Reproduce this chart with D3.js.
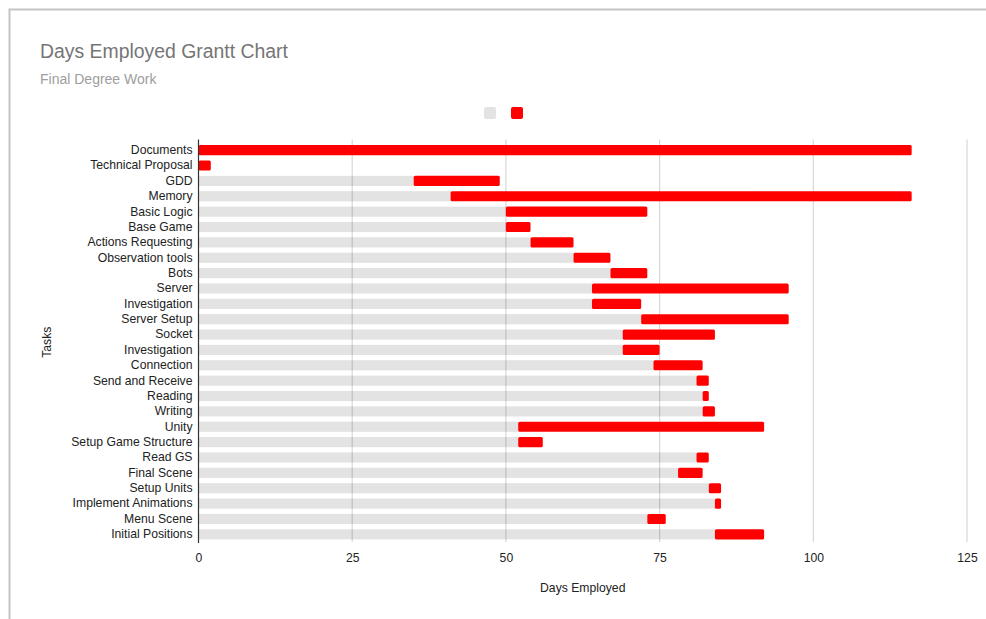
<!DOCTYPE html>
<html>
<head>
<meta charset="utf-8">
<script src="https://cdn.jsdelivr.net/npm/d3@7/dist/d3.min.js"></script>
<style>
  html, body { margin: 0; padding: 0; background: #fff; }
  svg { display: block; font-family: "Liberation Sans", Arial, sans-serif; }
</style>
</head>
<body>
<svg id="chart" width="986" height="619"></svg>
<script>
// 작업 목록 (위에서 아래 순서)
const tasks = [
  "Documents", "Technical Proposal", "GDD", "Memory", "Basic Logic", "Base Game",
  "Actions Requesting", "Observation tools", "Bots", "Server", "Investigation",
  "Server Setup", "Socket", "Investigation", "Connection", "Send and Receive",
  "Reading", "Writing", "Unity", "Setup Game Structure", "Read GS", "Final Scene",
  "Setup Units", "Implement Animations", "Menu Scene", "Initial Positions"
];
// 시작일 (회색 막대)
const startDays = [0, 0, 35, 41, 50, 50, 54, 61, 67, 64, 64, 72, 69, 69, 74, 81, 82, 82, 52, 52, 81, 78, 83, 84, 73, 84];
// 소요일 (빨간 막대)
const durationDays = [116, 2, 14, 75, 23, 4, 7, 6, 6, 32, 8, 24, 15, 6, 8, 2, 1, 2, 40, 4, 2, 4, 2, 1, 3, 8];
const xTicks = [0, 25, 50, 75, 100, 125];

const rows = tasks.map((t, i) => ({ key: i, task: t, start: startDays[i], dur: durationDays[i] }));

const svg = d3.select("#chart");
const FS = 12.2; // 라벨 글자 크기

// 바깥 테두리
svg.append("rect")
  .attr("x", 9.5).attr("y", 9.5).attr("width", 1000).attr("height", 700)
  .attr("fill", "none").attr("stroke", "#c4c4c4").attr("stroke-width", 2);

// 제목
svg.append("text").attr("x", 40).attr("y", 58)
  .attr("font-size", 19.4).attr("fill", "#757575")
  .text("Days Employed Grantt Chart");
svg.append("text").attr("x", 40).attr("y", 84)
  .attr("font-size", 14).attr("fill", "#9e9e9e")
  .text("Final Degree Work");

// 범례 (라벨 없음)
const legend = svg.append("g");
[["#e3e3e3", 484], ["#ff0000", 511]].forEach(([c, x]) => {
  legend.append("rect").attr("x", x).attr("y", 107).attr("width", 12).attr("height", 12)
    .attr("rx", 2).attr("fill", c);
});

const margin = { left: 198.5, right: 967, top: 142.5, bottom: 542 };

const x = d3.scaleLinear().domain([0, 125]).range([margin.left, margin.right]);
const y = d3.scaleBand()
  .domain(rows.map(d => d.key))
  .range([margin.top, margin.bottom])
  .paddingInner(0.34).paddingOuter(0.17);

// 회색 막대 (시작 전)
svg.append("g").selectAll("rect")
  .data(rows.filter(d => d.start > 0))
  .join("rect")
  .attr("x", x(0))
  .attr("y", d => y(d.key))
  .attr("width", d => x(d.start) - x(0))
  .attr("height", y.bandwidth())
  .attr("fill", "#e3e3e3");

// 세로 그리드
svg.append("g").selectAll("line")
  .data(xTicks.filter(v => v > 0))
  .join("line")
  .attr("x1", d => x(d)).attr("x2", d => x(d))
  .attr("y1", margin.top - 3).attr("y2", margin.bottom)
  .attr("stroke", "#000").attr("stroke-opacity", 0.16).attr("stroke-width", 1.2);

// 빨간 막대 (소요 기간)
svg.append("g").selectAll("rect")
  .data(rows)
  .join("rect")
  .attr("x", d => x(d.start))
  .attr("y", d => y(d.key))
  .attr("width", d => x(d.start + d.dur) - x(d.start))
  .attr("height", y.bandwidth())
  .attr("rx", 1.5)
  .attr("fill", "#ff0000");

// 0 기준선
svg.append("line")
  .attr("x1", x(0)).attr("x2", x(0))
  .attr("y1", margin.top - 3).attr("y2", margin.bottom + 1)
  .attr("stroke", "#333").attr("stroke-width", 1.2);

// x축 눈금 라벨
const xAxis = svg.append("g")
  .attr("transform", `translate(0,${margin.bottom})`)
  .call(d3.axisBottom(x).tickValues(xTicks).tickSize(0).tickPadding(11));
xAxis.select(".domain").remove();
xAxis.selectAll("text").attr("font-size", FS).attr("fill", "#222")
  .attr("font-family", "Liberation Sans, Arial, sans-serif");

// y축 작업 라벨
const yAxis = svg.append("g")
  .attr("transform", `translate(${margin.left},0)`)
  .call(d3.axisLeft(y).tickFormat(k => tasks[k]).tickSize(0).tickPadding(6));
yAxis.select(".domain").remove();
yAxis.selectAll("text").attr("font-size", FS).attr("fill", "#222")
  .attr("font-family", "Liberation Sans, Arial, sans-serif");

// 축 제목
svg.append("text")
  .attr("x", (margin.left + margin.right) / 2).attr("y", 592)
  .attr("text-anchor", "middle").attr("font-size", FS).attr("fill", "#222")
  .text("Days Employed");
svg.append("text")
  .attr("transform", `translate(51,${(margin.top + margin.bottom) / 2}) rotate(-90)`)
  .attr("text-anchor", "middle").attr("font-size", FS).attr("fill", "#222")
  .text("Tasks");
</script>
</body>
</html>
